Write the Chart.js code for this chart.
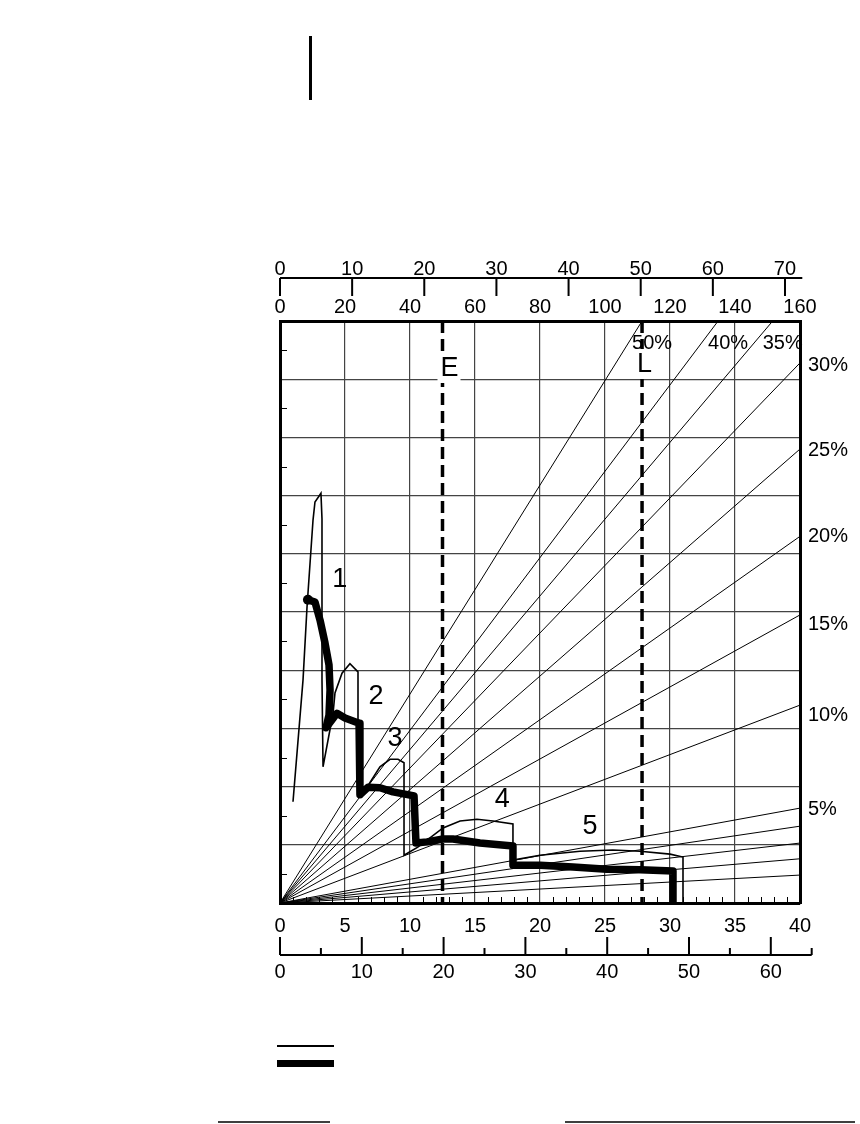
<!DOCTYPE html>
<html>
<head>
<meta charset="utf-8">
<script src="https://cdn.jsdelivr.net/npm/chart.js@4.4.1/dist/chart.umd.min.js"></script>
<style>
  html, body { margin: 0; padding: 0; background: #fff; }
  canvas { display: block; }
</style>
</head>
<body>
<canvas id="chart" width="860" height="1124"></canvas>
<script>
// ------
// data
// ------
const bottomTicks = [0, 5, 10, 15, 20, 25, 30, 35, 40];
const topInnerTicks = [0, 20, 40, 60, 80, 100, 120, 140, 160];
const topOuterTicks = [0, 10, 20, 30, 40, 50, 60, 70];
const bottomOuterTicks = [0, 10, 20, 30, 40, 50, 60];

// grade rays from the origin
const rayLabels = ['50%', '40%', '35%', '30%', '25%', '20%', '15%', '10%', '5%', '', '', '', ''];
const rayEndX = [27.85, 33.7, 37.9, 40, 40, 40, 40, 40, 40, 40, 40, 40, 40];
const rayEndY = [10, 10, 10, 9.28, 7.8, 6.3, 4.95, 3.4, 1.63, 1.32, 1.03, 0.76, 0.48];
const sideLabels = ['30%', '25%', '20%', '15%', '10%', '5%'];
const sideLabelY = [9.24, 7.78, 6.29, 4.78, 3.23, 1.6];

// thin envelope (gears 1..5)
const thinX = [1.0, 1.77, 2.08, 2.54, 2.69, 3.15, 3.23, 3.23, 3.31, 4.08, 4.23, 4.77, 5.38, 6.0, 6.0,
  6.12, 6.69, 7.69, 8.46, 9.08, 9.54, 9.54, 10.6, 12.54, 13.85, 15.15, 16.38, 17.92, 17.92,
  20.0, 23.08, 25.6, 27.7, 30.0, 31.0, 31.0];
const thinY = [1.74, 3.83, 5.09, 6.58, 6.89, 7.04, 6.6, 3.83, 2.34, 3.26, 3.61, 3.95, 4.11, 3.97, 3.09,
  1.88, 1.99, 2.34, 2.47, 2.47, 2.41, 0.82, 0.96, 1.29, 1.41, 1.44, 1.41, 1.36, 0.74,
  0.82, 0.89, 0.91, 0.89, 0.84, 0.79, 0];

// thick measured run
const thickX = [2.15, 2.69, 3.08, 3.46, 3.77, 3.85, 3.77, 3.54, 4.38, 5.0, 6.08, 6.15, 6.77, 7.69, 8.69,
  10.31, 10.46, 11.31, 12.54, 13.3, 15.38, 17.92, 17.92, 20.0, 22.54, 25.15, 27.7, 30.23, 30.23];
const thickY = [5.21, 5.17, 4.86, 4.47, 4.09, 3.66, 3.23, 3.01, 3.26, 3.18, 3.09, 1.86, 1.99, 1.98, 1.91,
  1.84, 1.03, 1.05, 1.10, 1.10, 1.03, 0.98, 0.65, 0.65, 0.62, 0.58, 0.57, 0.55, 0];

const curveNames = ['1', '2', '3', '4', '5'];
const curveNameX = [4.6, 7.38, 8.85, 17.1, 23.85];
const curveNameY = [5.55, 3.54, 2.83, 1.77, 1.32];

const markNames = ['E', 'L'];
const markX = [12.5, 27.85];

const FONT = '"Liberation Sans", Arial, Helvetica, sans-serif';
const pts = (xs, ys) => xs.map((x, i) => ({ x: x, y: ys[i] }));

const datasets = [];
markX.forEach((mx) => {
  datasets.push({
    data: [{ x: mx, y: 10 }, { x: mx, y: 0 }],
    borderColor: '#000', borderWidth: 3.5, borderDash: [12, 6],
    pointRadius: 0, order: 0,
  });
});
datasets.push({
  data: pts(thickX, thickY),
  borderColor: '#000', borderWidth: 7.5, borderJoinStyle: 'round',
  pointRadius: (c) => (c.dataIndex === 0 ? 5 : 0),
  pointBackgroundColor: '#000', pointBorderWidth: 0, order: 1,
});
datasets.push({
  data: pts(thinX, thinY),
  borderColor: '#000', borderWidth: 1.6, pointRadius: 0, order: 2,
});
rayEndX.forEach((ex, i) => {
  datasets.push({
    data: [{ x: 0, y: 0 }, { x: ex, y: rayEndY[i] }],
    borderColor: '#000', borderWidth: 1, pointRadius: 0, order: 3,
  });
});

// ------
// extra drawing: minor ticks, labels, outer scales
// ------
const sheet = {
  id: 'sheet',
  beforeDraw(chart) {
    const ctx = chart.ctx;
    ctx.save();
    ctx.fillStyle = '#fff';
    ctx.fillRect(0, 0, chart.width, chart.height);
    ctx.restore();
  },
  afterDatasetsDraw(chart) {
    const { ctx, chartArea: a, scales } = chart;
    const sx = scales.x, sy = scales.y;
    ctx.save();
    ctx.strokeStyle = '#000';
    ctx.fillStyle = '#000';

    // minor ticks inside
    ctx.lineWidth = 1;
    ctx.beginPath();
    for (let i = 1; i < 40; i++) {
      if (i % 5 === 0) continue;
      const px = Math.round(sx.getPixelForValue(i)) + 0.5;
      ctx.moveTo(px, a.bottom);
      ctx.lineTo(px, a.bottom - 6);
    }
    for (let j = 0; j < 10; j++) {
      const py = Math.round(sy.getPixelForValue(j + 0.5)) + 0.5;
      ctx.moveTo(a.left, py);
      ctx.lineTo(a.left + 7, py);
    }
    ctx.stroke();

    // E / L marks
    ctx.font = '27px ' + FONT;
    ctx.textBaseline = 'middle';
    ctx.textAlign = 'left';
    markNames.forEach((m, i) => {
      const px = sx.getPixelForValue(markX[i]);
      const left = m === 'E' ? px - 2 : px - 5;
      const cy = m === 'E' ? a.top + 47 : a.top + 43;
      ctx.fillStyle = '#fff';
      ctx.fillRect(left - 3, cy - 15, 23, 30);
      ctx.fillStyle = '#000';
      ctx.fillText(m, left, cy + 1);
    });

    // gear numbers
    ctx.textAlign = 'center';
    curveNames.forEach((n, i) => {
      ctx.fillText(n, sx.getPixelForValue(curveNameX[i]), sy.getPixelForValue(curveNameY[i]));
    });

    // grade labels
    ctx.font = '20px ' + FONT;
    ctx.textAlign = 'left';
    for (let i = 0; i < 3; i++) {
      ctx.fillText(rayLabels[i], sx.getPixelForValue(rayEndX[i]) - 10, a.top + 22);
    }
    sideLabels.forEach((t, i) => {
      ctx.fillText(t, a.right + 8, sy.getPixelForValue(sideLabelY[i]));
    });

    // outer top scale, ticks hanging down
    const st = scales.xt2;
    const yTop = a.top - 43;
    ctx.lineWidth = 2;
    ctx.beginPath();
    ctx.moveTo(st.getPixelForValue(0), yTop);
    ctx.lineTo(st.getPixelForValue(72.4), yTop);
    topOuterTicks.forEach((v) => {
      const px = st.getPixelForValue(v);
      ctx.moveTo(px, yTop);
      ctx.lineTo(px, yTop + 18);
    });
    ctx.stroke();
    ctx.textAlign = 'center';
    ctx.textBaseline = 'alphabetic';
    topOuterTicks.forEach((v) => {
      ctx.fillText(String(v), st.getPixelForValue(v), yTop - 3);
    });

    // outer bottom scale, ticks standing up
    const sb = scales.xb2;
    const yBot = a.bottom + 52;
    ctx.beginPath();
    ctx.moveTo(sb.getPixelForValue(0), yBot);
    ctx.lineTo(sb.getPixelForValue(65), yBot);
    bottomOuterTicks.forEach((v) => {
      const px = sb.getPixelForValue(v);
      ctx.moveTo(px, yBot);
      ctx.lineTo(px, yBot - 18);
      const pm = sb.getPixelForValue(v + 5);
      ctx.moveTo(pm, yBot);
      ctx.lineTo(pm, yBot - 7);
    });
    ctx.stroke();
    ctx.textBaseline = 'top';
    bottomOuterTicks.forEach((v) => {
      ctx.fillText(String(v), sb.getPixelForValue(v), yBot + 7);
    });

    // loose marks of the page
    ctx.fillRect(309, 36, 3, 64);
    ctx.lineWidth = 2;
    ctx.beginPath();
    ctx.moveTo(277, 1046);
    ctx.lineTo(334, 1046);
    ctx.stroke();
    ctx.fillRect(277, 1060, 57, 7);
    ctx.lineWidth = 1.5;
    ctx.beginPath();
    ctx.moveTo(218, 1122);
    ctx.lineTo(330, 1122);
    ctx.moveTo(565, 1122);
    ctx.lineTo(855, 1122);
    ctx.stroke();
    ctx.restore();
  },
};

const tickFont = { family: FONT, size: 20 };

new Chart(document.getElementById('chart'), {
  type: 'line',
  data: { datasets: datasets },
  options: {
    responsive: false,
    animation: false,
    layout: { padding: { left: 280, right: 60, top: 291, bottom: 181 } },
    plugins: { legend: { display: false }, tooltip: { enabled: false } },
    elements: { line: { tension: 0 } },
    scales: {
      x: {
        type: 'linear', position: 'bottom', min: 0, max: 40,
        afterBuildTicks: (s) => { s.ticks = bottomTicks.map((v) => ({ value: v })); },
        ticks: { color: '#000', font: tickFont, padding: 11, maxRotation: 0 },
        grid: { color: '#444', lineWidth: 1.2, drawTicks: false },
        border: { color: '#000', width: 3 },
        afterFit: (s) => { s.height = 40; },
      },
      xt1: {
        type: 'linear', position: 'top', min: 0, max: 160,
        afterBuildTicks: (s) => { s.ticks = topInnerTicks.map((v) => ({ value: v })); },
        ticks: { color: '#000', font: tickFont, padding: 2, maxRotation: 0 },
        grid: { drawOnChartArea: false, drawTicks: false },
        border: { color: '#000', width: 3 },
        afterFit: (s) => { s.height = 30; },
      },
      xt2: { type: 'linear', position: 'top', min: 0, max: 72.08, display: false },
      xb2: { type: 'linear', position: 'bottom', min: 0, max: 63.57, display: false },
      y: {
        type: 'linear', position: 'left', min: 0, max: 10,
        ticks: { stepSize: 1, display: false },
        grid: { color: '#444', lineWidth: 1.2, drawTicks: false },
        border: { color: '#000', width: 3 },
        afterFit: (s) => { s.width = 0; },
      },
      yR: {
        type: 'linear', position: 'right', min: 0, max: 10,
        ticks: { display: false },
        grid: { drawOnChartArea: false, drawTicks: false },
        border: { color: '#000', width: 3 },
        afterFit: (s) => { s.width = 0; },
      },
    },
  },
  plugins: [sheet],
});
</script>
</body>
</html>
